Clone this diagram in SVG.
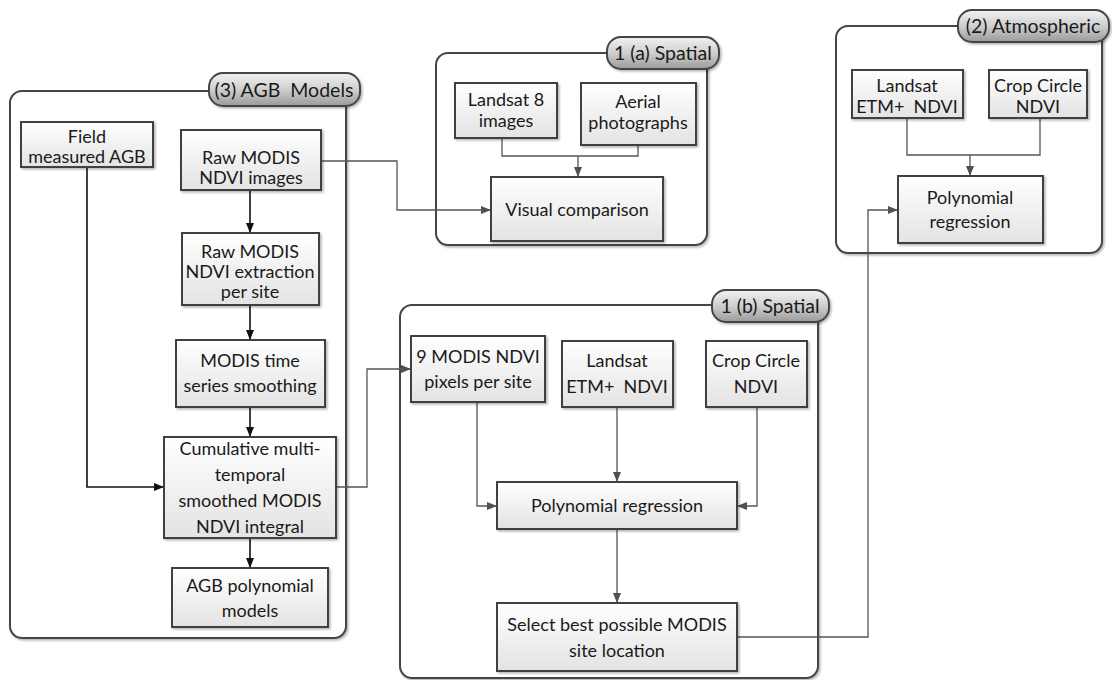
<svg xmlns="http://www.w3.org/2000/svg" width="1112" height="680" viewBox="0 0 1112 680">
<defs>
<linearGradient id="boxg" x1="0" y1="0" x2="0" y2="1"><stop offset="0" stop-color="#ffffff"/><stop offset="1" stop-color="#e3e3e3"/></linearGradient>
<linearGradient id="pillg" x1="0" y1="0" x2="0" y2="1"><stop offset="0" stop-color="#f2f2f2"/><stop offset="0.5" stop-color="#cfcfcf"/><stop offset="1" stop-color="#9a9a9a"/></linearGradient>
<filter id="sh" x="-10%" y="-10%" width="130%" height="130%"><feDropShadow dx="1.5" dy="1.5" stdDeviation="1.2" flood-color="#000" flood-opacity="0.3"/></filter>
<marker id="ag" markerWidth="10" markerHeight="8" refX="9" refY="4" orient="auto" markerUnits="userSpaceOnUse"><path d="M0,0 L10,4 L0,8 z" fill="#505050"/></marker>
<marker id="ab" markerWidth="10" markerHeight="8" refX="9" refY="4" orient="auto" markerUnits="userSpaceOnUse"><path d="M0,0 L10,4 L0,8 z" fill="#111"/></marker>
</defs>
<style>
.cont{fill:#fff;stroke:#454545;stroke-width:2;filter:url(#sh)}
.pill{fill:url(#pillg);stroke:#454545;stroke-width:2;filter:url(#sh)}
.box{fill:url(#boxg);stroke:#404040;stroke-width:2;filter:url(#sh)}
text{font-family:Lato,"Open Sans","Liberation Sans",sans-serif;font-size:18px;fill:#1a1a1a;text-anchor:middle;white-space:pre}
.pt{font-size:19.5px}
.cg{fill:none;stroke:#555;stroke-width:1.3;marker-end:url(#ag)}
.cgn{fill:none;stroke:#555;stroke-width:1.3}
.cb{fill:none;stroke:#111;stroke-width:1.6;marker-end:url(#ab)}
</style>
<rect width="1112" height="680" fill="#fff"/>

<g id="group-agb">
<rect class="cont" x="10" y="91" width="336" height="547" rx="12"/>
<rect class="pill" x="209" y="73" width="151" height="33" rx="14"/>
<text class="pt" x="284" y="97">(3) AGB  Models</text>
</g>
<g id="group-1a">
<rect class="cont" x="436" y="53" width="271" height="192" rx="12"/>
<rect class="pill" x="607" y="37" width="112" height="32" rx="14"/>
<text class="pt" x="663" y="60">1 (a) Spatial</text>
</g>
<g id="group-2">
<rect class="cont" x="836" y="26" width="266" height="227" rx="12"/>
<rect class="pill" x="958" y="10" width="151" height="32" rx="14"/>
<text class="pt" x="1033" y="33">(2) Atmospheric</text>
</g>
<g id="group-1b">
<rect class="cont" x="400" y="305" width="418" height="373" rx="12"/>
<rect class="pill" x="712" y="290" width="117" height="32" rx="14"/>
<text class="pt" x="770" y="313">1 (b) Spatial</text>
</g>

<g id="connectors">
<polyline class="cb" points="87,167 87,487 163,487"/>
<line class="cb" x1="250" y1="190" x2="250" y2="232"/>
<line class="cb" x1="250" y1="305" x2="250" y2="339"/>
<line class="cb" x1="250" y1="407" x2="250" y2="436"/>
<line class="cb" x1="250" y1="538" x2="250" y2="567"/>
<polyline class="cg" points="321,161 397,161 397,210 490,210"/>
<polyline class="cg" points="336,487 367,487 367,369 410,369"/>
<polyline class="cgn" points="502,138 502,156 638,156 638,145"/>
<line class="cg" x1="578" y1="156" x2="578" y2="176"/>
<polyline class="cgn" points="907,118 907,155 1040,155 1040,118"/>
<line class="cg" x1="970" y1="155" x2="970" y2="175"/>
<polyline class="cg" points="477,402 477,506 496,506"/>
<line class="cg" x1="617" y1="407" x2="617" y2="481"/>
<polyline class="cg" points="757,407 757,506 738,506"/>
<line class="cg" x1="617" y1="529" x2="617" y2="602"/>
<polyline class="cg" points="737,637 868,637 868,210 897,210"/>
</g>

<g id="n-field"><rect class="box" x="21" y="122" width="132" height="45"/><text x="87" y="143">Field</text><text x="87" y="163">measured AGB</text></g>
<g id="n-rawmodis"><rect class="box" x="181" y="130" width="140" height="60"/><text x="251" y="164">Raw MODIS</text><text x="251" y="184">NDVI images</text></g>
<g id="n-extract"><rect class="box" x="182" y="233" width="137" height="72"/><text x="250" y="258">Raw MODIS</text><text x="250" y="278">NDVI extraction</text><text x="250" y="298">per site</text></g>
<g id="n-smooth"><rect class="box" x="176" y="340" width="149" height="67"/><text x="250" y="367">MODIS time</text><text x="250" y="392">series smoothing</text></g>
<g id="n-cumul"><rect class="box" x="164" y="437" width="172" height="101"/><text x="250" y="455">Cumulative multi-</text><text x="250" y="481">temporal</text><text x="250" y="507">smoothed MODIS</text><text x="250" y="533">NDVI integral</text></g>
<g id="n-agbmodels"><rect class="box" x="172" y="568" width="156" height="59"/><text x="250" y="592">AGB polynomial</text><text x="250" y="617">models</text></g>

<g id="n-landsat8"><rect class="box" x="455" y="83" width="102" height="55"/><text x="506" y="106">Landsat 8</text><text x="506" y="127">images</text></g>
<g id="n-aerial"><rect class="box" x="581" y="83" width="115" height="62"/><text x="638" y="108">Aerial</text><text x="638" y="129">photographs</text></g>
<g id="n-visual"><rect class="box" x="491" y="177" width="172" height="64"/><text x="577" y="216">Visual comparison</text></g>

<g id="n-atm-landsat"><rect class="box" x="852" y="70" width="111" height="48"/><text x="907" y="92">Landsat</text><text x="907" y="113">ETM+  NDVI</text></g>
<g id="n-atm-crop"><rect class="box" x="989" y="70" width="98" height="48"/><text x="1038" y="92">Crop Circle</text><text x="1038" y="113">NDVI</text></g>
<g id="n-atm-poly"><rect class="box" x="898" y="176" width="145" height="67"/><text x="970" y="204">Polynomial</text><text x="970" y="228">regression</text></g>

<g id="n-9modis"><rect class="box" x="411" y="336" width="134" height="66"/><text x="478" y="363">9 MODIS NDVI</text><text x="478" y="388">pixels per site</text></g>
<g id="n-b-landsat"><rect class="box" x="562" y="341" width="111" height="66"/><text x="617" y="367">Landsat</text><text x="617" y="393">ETM+  NDVI</text></g>
<g id="n-b-crop"><rect class="box" x="706" y="341" width="101" height="66"/><text x="756" y="367">Crop Circle</text><text x="756" y="393">NDVI</text></g>
<g id="n-b-poly"><rect class="box" x="497" y="482" width="240" height="47"/><text x="617" y="512">Polynomial regression</text></g>
<g id="n-select"><rect class="box" x="497" y="603" width="240" height="68"/><text x="617" y="631">Select best possible MODIS</text><text x="617" y="657">site location</text></g>
</svg>
